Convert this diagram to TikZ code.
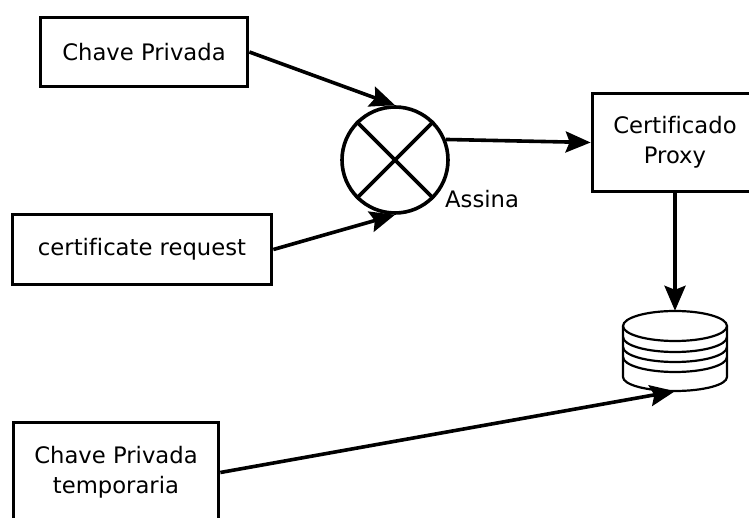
\documentclass[tikz,border=0pt]{standalone}
\usepackage{fontspec}
\setmainfont[Ligatures=NoCommon]{DejaVu Sans}
\usetikzlibrary{arrows.meta}
\begin{document}
\begin{tikzpicture}[x=1pt,y=1pt,
  box/.style={draw, line width=3.7pt, inner sep=0pt, align=center,
    font=\fontsize{22.7}{30}\selectfont},
  conn/.style={line width=3.6pt, -{Stealth[length=25pt,width=21pt,inset=4pt]}},
  dbline/.style={line width=2.2pt}]
\useasboundingbox (0,0) rectangle (749,518);
\node[box, minimum width=207pt, minimum height=69pt] (pk) at (144,466) {Chave Privada};
\node[box, minimum width=259pt, minimum height=70pt] (req) at (142,268.5) {certificate request};
\node[box, minimum width=165pt, minimum height=98pt] (proxy) at (675,375.5) {Certificado\\Proxy};
\node[box, minimum width=205pt, minimum height=100pt] (tmp) at (116,45.5) {Chave Privada\\temporaria};
\node[circle, draw, line width=3.6pt, minimum size=106pt, inner sep=0pt] (sign) at (395,358) {};
\draw[line width=3.6pt] (sign.45) -- (sign.225) (sign.135) -- (sign.315);
\node[anchor=base west, inner sep=0pt, font=\fontsize{22.7}{30}\selectfont] (lbl) at (445,310) {Assina};
% database
\node[minimum width=104pt, minimum height=80pt, inner sep=0pt] (db) at (675,167) {};
\draw[dbline, fill=white] (623,192) -- (623,141) arc[start angle=180, end angle=360, x radius=52, y radius=14] -- (727,192);
\draw[dbline, fill=white] (675,192) ellipse [x radius=52, y radius=15];
\draw[dbline] (623,181) arc[start angle=180, end angle=360, x radius=52, y radius=15];
\draw[dbline] (623,171) arc[start angle=180, end angle=360, x radius=52, y radius=15];
\draw[dbline] (623,161) arc[start angle=180, end angle=360, x radius=52, y radius=15];
% connectors
\draw[conn] (pk.east) -- (sign.north);
\draw[conn] (req.east) -- (sign.south);
\draw[conn] (sign.22) -- (proxy.west);
\draw[conn] (proxy.south) -- (db.north);
\draw[conn] (tmp.east) -- (db.south);
\end{tikzpicture}
\end{document}
